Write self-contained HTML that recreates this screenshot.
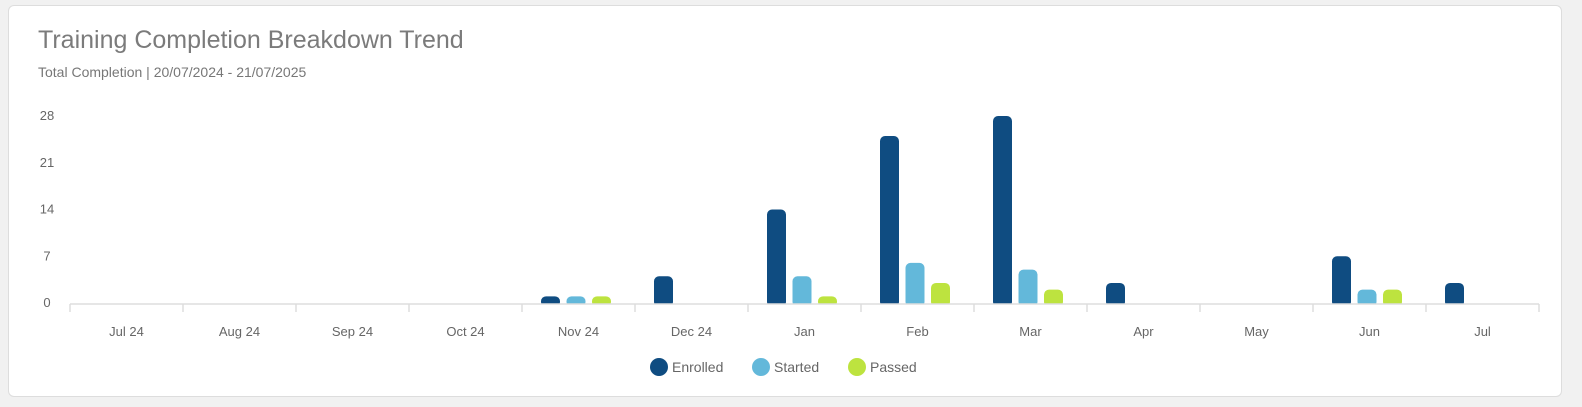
<!DOCTYPE html>
<html><head><meta charset="utf-8"><style>
body{margin:0;background:#f1f1f1;width:1582px;height:407px;overflow:hidden;font-family:"Liberation Sans",sans-serif}
.card{position:absolute;left:8px;top:5px;width:1552px;height:390px;background:#fff;border:1px solid #ddd;border-radius:6px}
.t{position:absolute;left:29px;top:20px;font-size:25px;color:#7b7b7b}
.s{position:absolute;left:29px;top:58px;font-size:14px;color:#777}
svg{position:absolute;left:0;top:0}
</style></head><body>
<div class="card">
<div class="t">Training Completion Breakdown Trend</div>
<div class="s">Total Completion | 20/07/2024 - 21/07/2025</div>
</div>
<svg id="c" width="1582" height="407"></svg>
<script>
const categories=["Jul 24","Aug 24","Sep 24","Oct 24","Nov 24","Dec 24","Jan","Feb","Mar","Apr","May","Jun","Jul"];
const enrolled=[0,0,0,0,1,4,14,25,28,3,0,7,3];
const started=[0,0,0,0,1,0,4,6,5,0,0,2,0];
const passed=[0,0,0,0,1,0,1,3,2,0,0,2,0];
const yTicks=[0,7,14,21,28];
const seriesNames=["Enrolled","Started","Passed"];
const colors=["#0f4c81","#63b8da","#bde33f"];
const NS="http://www.w3.org/2000/svg";
const svg=document.getElementById('c');
const x0=70,x1=1539,y0=303,yTop=116,yMax=28;
const bw=(x1-x0)/categories.length;
const y=v=>y0-(v/yMax)*(y0-yTop);
function mk(t,a){const e=document.createElementNS(NS,t);for(const k in a)e.setAttribute(k,a[k]);svg.appendChild(e);return e;}
yTicks.forEach(v=>{const e=mk('text',{x:47,y:y(v)+4,'font-size':13,fill:'#666','text-anchor':'middle','font-family':'Liberation Sans'});e.textContent=v;

});
const series=[enrolled,started,passed];
categories.forEach((c,i)=>{const cx=x0+(i+0.5)*bw;
const t=mk('text',{x:cx,y:336,'font-size':13,fill:'#666','text-anchor':'middle','font-family':'Liberation Sans'});t.textContent=c;


series.forEach((s,j)=>{const v=s[i];if(!v)return;const bx=cx-28+j*25.5-9.5;const top=y(v);
const r=mk('rect',{x:bx,y:top,width:19,height:y0-top+4,rx:5,fill:colors[j]});

});});
const cv=mk('rect',{x:x0,y:y0+0.5,width:x1-x0,height:6,fill:'#fff'});


const ax=mk('line',{x1:x0,x2:x1,y1:y0+1,y2:y0+1,stroke:'#ddd','stroke-width':1.5});


for(let i=0;i<=categories.length;i++){const tx=x0+i*bw;const l=mk('line',{x1:tx,x2:tx,y1:y0+1,y2:y0+9,stroke:'#ddd','stroke-width':1.5});

}
const lx=[659,761,857];
seriesNames.forEach((n,j)=>{const c=mk('circle',{cx:lx[j],cy:367,r:9,fill:colors[j]});


const t=mk('text',{x:lx[j]+13,y:372,'font-size':14,fill:'#666','font-family':'Liberation Sans'});t.textContent=n;

});
</script>
</body></html>
